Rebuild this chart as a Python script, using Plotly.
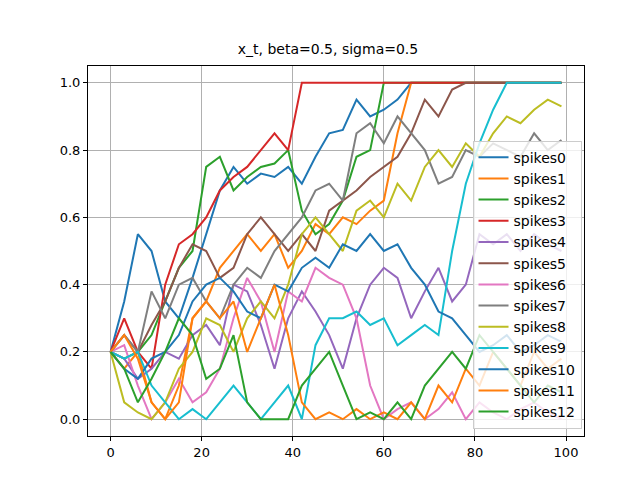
import plotly.graph_objects as go

steps = list(range(0, 100, 3))
ones = lambda n: [1.0] * n

spikes = [
    [0.2,0.35,0.55,0.5,0.35,0.3,0.42,0.55,0.68,0.75,0.7,0.73,0.72,0.75,0.7,0.78,0.85,0.86,0.95,0.9,0.92,0.95] + ones(12),
    [0.2,0.15,0.2,0.05,0.0,0.1,0.3,0.35,0.45,0.5,0.55,0.5,0.55,0.45,0.5,0.58,0.55,0.6,0.58,0.62,0.65,0.85] + ones(12),
    [0.2,0.18,0.2,0.25,0.35,0.45,0.5,0.75,0.78,0.68,0.72,0.75,0.76,0.8,0.62,0.55,0.58,0.65,0.78,0.8] + ones(14),
    [0.2,0.3,0.2,0.15,0.4,0.52,0.55,0.6,0.68,0.72,0.75,0.8,0.85,0.8] + ones(20),
    [0.2,0.18,0.12,0.15,0.2,0.18,0.25,0.28,0.22,0.4,0.38,0.28,0.15,0.3,0.38,0.32,0.25,0.15,0.3,0.4,0.45,0.42,0.3,0.38,0.45,0.35,0.4,0.55,0.52,0.55,0.5,0.55,0.52,0.5],
    [0.2,0.25,0.2,0.28,0.35,0.45,0.52,0.5,0.42,0.45,0.55,0.6,0.55,0.5,0.55,0.5,0.62,0.65,0.68,0.72,0.75,0.78,0.85,0.95,0.9,0.98] + ones(8),
    [0.2,0.22,0.1,0.0,0.05,0.12,0.05,0.08,0.15,0.3,0.42,0.35,0.2,0.38,0.35,0.45,0.42,0.4,0.3,0.1,0.0,0.03,0.05,0.0,0.03,0.08,0.0,0.05,0.02,0.0,0.03,0.05,0.02,0.0],
    [0.2,0.25,0.2,0.38,0.3,0.4,0.42,0.35,0.3,0.4,0.45,0.42,0.5,0.55,0.6,0.68,0.7,0.65,0.85,0.88,0.82,0.9,0.85,0.8,0.7,0.72,0.8,0.78,0.82,0.8,0.78,0.85,0.8,0.83],
    [0.2,0.05,0.02,0.0,0.05,0.15,0.2,0.3,0.28,0.2,0.3,0.35,0.3,0.4,0.55,0.6,0.55,0.5,0.62,0.65,0.6,0.7,0.65,0.75,0.8,0.75,0.82,0.78,0.85,0.9,0.88,0.92,0.95,0.93],
    [0.2,0.18,0.2,0.1,0.05,0.0,0.03,0.0,0.05,0.1,0.05,0.0,0.05,0.1,0.0,0.22,0.3,0.3,0.32,0.28,0.3,0.22,0.25,0.28,0.25,0.5,0.7,0.82,0.92] + ones(5),
    [0.2,0.15,0.12,0.18,0.2,0.25,0.35,0.4,0.42,0.38,0.32,0.3,0.4,0.38,0.45,0.48,0.45,0.52,0.5,0.55,0.5,0.52,0.45,0.4,0.32,0.3,0.25,0.2,0.22,0.25,0.2,0.22,0.25,0.23],
    [0.2,0.25,0.18,0.05,0.0,0.05,0.3,0.35,0.3,0.35,0.2,0.3,0.4,0.25,0.05,0.0,0.02,0.0,0.03,0.0,0.02,0.0,0.05,0.0,0.1,0.05,0.15,0.1,0.2,0.15,0.1,0.2,0.15,0.18],
    [0.2,0.15,0.05,0.12,0.2,0.3,0.25,0.12,0.15,0.25,0.05,0.0,0.0,0.0,0.1,0.15,0.2,0.1,0.0,0.02,0.0,0.05,0.0,0.1,0.15,0.2,0.15,0.25,0.2,0.15,0.1,0.05,0.1,0.08],
]

colors = ['#1f77b4', '#ff7f0e', '#2ca02c', '#d62728', '#9467bd', '#8c564b',
          '#e377c2', '#7f7f7f', '#bcbd22', '#17becf']

fig = go.Figure()
for i, ys in enumerate(spikes):
    fig.add_trace(go.Scatter(x=steps, y=ys, mode='lines', name='spikes%d' % i,
                             line=dict(color=colors[i % 10], width=2)))

axis = dict(showline=True, mirror=True, linecolor='black', linewidth=1,
            showgrid=True, gridcolor='#b0b0b0', gridwidth=1, zeroline=False,
            ticks='outside', ticklen=4, tickcolor='black')
fig.update_layout(
    width=640, height=480,
    paper_bgcolor='white', plot_bgcolor='white',
    font=dict(family='DejaVu Sans', size=13, color='black'),
    title=dict(text='x_t, beta=0.5, sigma=0.5', x=0.5, xanchor='center', y=0.925, font=dict(size=14)),
    margin=dict(l=80, r=64, t=58, b=52),
    xaxis=dict(range=[-4.95, 103.95], tickvals=[0, 20, 40, 60, 80, 100], **axis),
    yaxis=dict(range=[-0.05, 1.05], tickvals=[0, 0.2, 0.4, 0.6, 0.8, 1.0],
               tickformat='.1f', **axis),
    legend=dict(x=0.995, y=0.02, xanchor='right', yanchor='bottom',
                bgcolor='rgba(255,255,255,0.8)', bordercolor='#cccccc', borderwidth=1,
                font=dict(size=14), tracegroupgap=0),
    showlegend=True,
)
fig.write_html("out.html")
